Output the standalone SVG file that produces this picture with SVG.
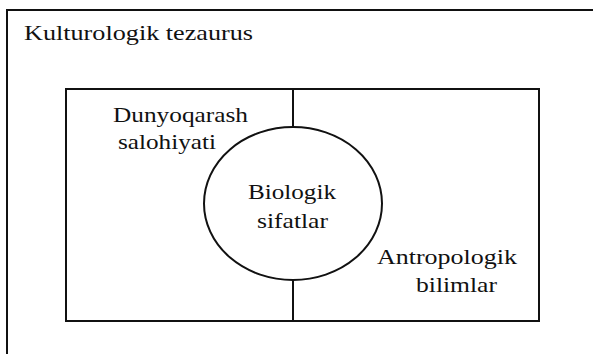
<svg xmlns="http://www.w3.org/2000/svg" width="593" height="354" viewBox="0 0 593 354">
<style>
.ln{fill:none;stroke:#111;stroke-width:2}
.t{font-family:"Liberation Serif","Times New Roman",serif;font-size:22px;fill:#111}
</style>
<rect x="0" y="0" width="593" height="354" fill="#fff"/>
<g id="outer">
<path class="ln" d="M7,354 V10 H593"/>
<text class="t" x="24" y="40" textLength="229" lengthAdjust="spacingAndGlyphs">Kulturologik tezaurus</text>
</g>
<g id="inner">
<rect class="ln" x="66" y="89" width="473" height="232"/>
</g>
<g id="connectors">
<line class="ln" x1="293" y1="89" x2="293" y2="127"/>
<line class="ln" x1="293" y1="280" x2="293" y2="321"/>
</g>
<g id="circle">
<ellipse class="ln" cx="293" cy="203.5" rx="89" ry="76.5"/>
<text class="t" x="248" y="199" textLength="88" lengthAdjust="spacingAndGlyphs">Biologik</text>
<text class="t" x="257" y="228" textLength="71" lengthAdjust="spacingAndGlyphs">sifatlar</text>
</g>
<g id="label-dunyoqarash">
<text class="t" x="113" y="122" textLength="135" lengthAdjust="spacingAndGlyphs">Dunyoqarash</text>
<text class="t" x="118" y="149" textLength="98" lengthAdjust="spacingAndGlyphs">salohiyati</text>
</g>
<g id="label-antropologik">
<text class="t" x="377" y="264" textLength="140" lengthAdjust="spacingAndGlyphs">Antropologik</text>
<text class="t" x="416" y="292" textLength="81" lengthAdjust="spacingAndGlyphs">bilimlar</text>
</g>
</svg>
